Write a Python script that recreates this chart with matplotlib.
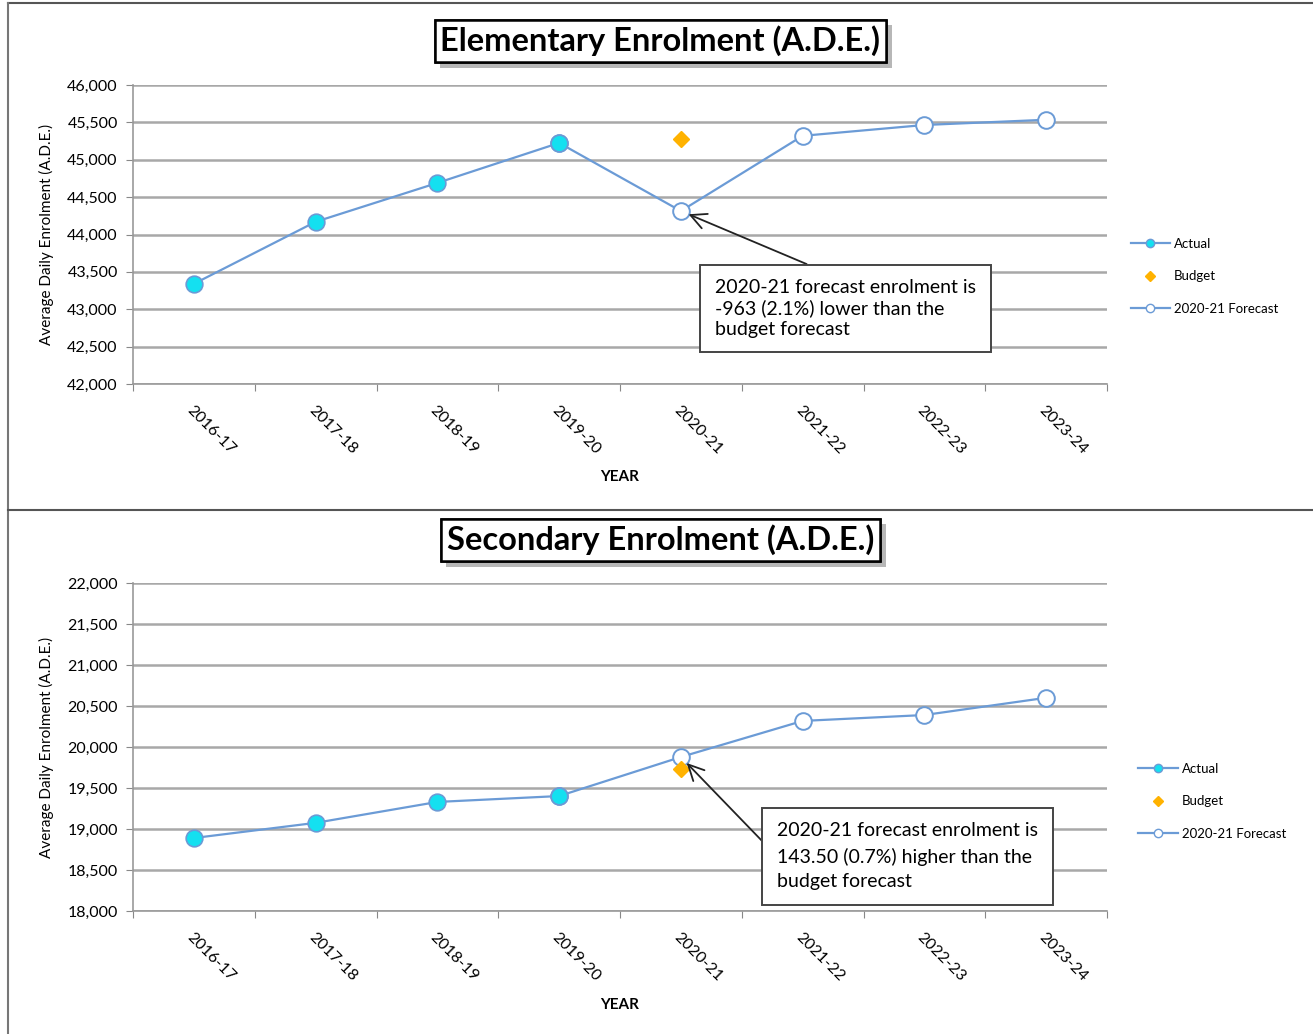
import matplotlib.pyplot as plt
import matplotlib.patheffects as pe
from matplotlib.ticker import FuncFormatter, FixedLocator
from matplotlib.lines import Line2D

plt.rcParams['font.family'] = ['Lato', 'DejaVu Sans']

years = ['2016-17', '2017-18', '2018-19', '2019-20', '2020-21',
         '2021-22', '2022-23', '2023-24']

# elementary A.D.E.
elem_actual = [43340, 44170, 44690, 45225]
elem_forecast = [45225, 44314, 45320, 45465, 45535]
elem_budget = 45277
elem_note = '2020-21 forecast enrolment is\n-963 (2.1%) lower than the\nbudget forecast'

# secondary A.D.E.
sec_actual = [18890, 19075, 19330, 19402]
sec_forecast = [19402, 19878, 20318, 20390, 20600]
sec_budget = 19734.5
sec_note = '2020-21 forecast enrolment is\n143.50 (0.7%) higher than the\nbudget forecast'

line_blue = '#6b9bd6'
cyan = '#14e0f0'
orange = '#ffb200'
grid_gray = '#a8a8a8'

fig = plt.figure(figsize=(13.13, 10.34), dpi=100)

# panel frames
fig.add_artist(Line2D([8/1313, 1], [1 - 3/1034, 1 - 3/1034], color='#555555', lw=1.5))
fig.add_artist(Line2D([8/1313, 8/1313], [1 - 3/1034, 0], color='#777777', lw=1.5))
fig.add_artist(Line2D([8/1313, 1], [1 - 510/1034, 1 - 510/1034], color='#555555', lw=1.5))


def draw_panel(ax, title, title_y, actual, forecast, budget, ylo, yhi,
               note, note_xy, relpos, linespacing, legend_anchor, xpad):
    xs = list(range(len(years)))
    n_act = len(actual)
    ax.plot(xs[n_act - 1:], forecast, color=line_blue, lw=1.6, marker='o',
            markersize=12, markerfacecolor='white', markeredgecolor=line_blue,
            markeredgewidth=1.4, zorder=3)
    ax.plot(xs[:n_act], actual, color=line_blue, lw=1.6, marker='o',
            markersize=12, markerfacecolor=cyan, markeredgecolor=line_blue,
            markeredgewidth=1.2, zorder=4)
    ax.plot([4], [budget], linestyle='none', marker='D', markersize=8.5,
            color=orange, zorder=4)

    ax.set_xlim(-0.5, len(years) - 0.5)
    ax.set_ylim(ylo, yhi)
    ax.yaxis.set_major_locator(FixedLocator(range(ylo, yhi + 1, 500)))
    ax.yaxis.set_major_formatter(FuncFormatter(lambda v, p: f'{int(v):,}'))
    ax.grid(axis='y', color=grid_gray, lw=1.8)
    ax.set_axisbelow(True)

    # tick marks on category boundaries, labels on category centres
    ax.set_xticks([i - 0.5 for i in range(len(years) + 1)])
    ax.set_xticklabels([])
    ax.set_xticks(xs, minor=True)
    ax.set_xticklabels(years, minor=True, rotation=-45, ha='left', va='top',
                       rotation_mode='anchor', fontsize=11.5)
    ax.tick_params(axis='x', which='minor', length=0, pad=14)
    ax.tick_params(axis='x', which='major', length=5, color='#888888')
    ax.tick_params(axis='y', length=5, color='#888888', labelsize=11.5, pad=6)

    for s in ['top', 'right']:
        ax.spines[s].set_visible(False)
    for s in ['left', 'bottom']:
        ax.spines[s].set_color('#999999')
        ax.spines[s].set_linewidth(1.2)

    ax.set_xlabel('YEAR', fontsize=11, fontweight='bold', labelpad=xpad)
    ax.set_ylabel('Average Daily Enrolment (A.D.E.)', fontsize=11)
    ax.yaxis.set_label_coords(-0.081, 0.5)

    t = fig.text(0.503, title_y, title, ha='center', va='center',
                 fontsize=23.5, fontweight='bold',
                 bbox=dict(boxstyle='square,pad=0.18', fc='white',
                           ec='black', lw=1.8))
    t.get_bbox_patch().set_path_effects(
        [pe.withSimplePatchShadow(offset=(4, -4), shadow_rgbFace='#888888',
                                  alpha=0.6), pe.Normal()])

    ax.annotate(note, xy=(4, forecast[1]), xytext=note_xy,
                textcoords='data', ha='left', va='top', fontsize=14,
                linespacing=linespacing,
                bbox=dict(boxstyle='square,pad=0.75', fc='white',
                          ec='#444444', lw=1.4),
                arrowprops=dict(arrowstyle='->,head_length=0.8,head_width=0.4',
                                color='#222222', lw=1.3, relpos=relpos,
                                shrinkA=0, shrinkB=6),
                zorder=5)

    handles = [
        Line2D([], [], color=line_blue, lw=1.6, marker='o', markersize=6,
               markerfacecolor=cyan, markeredgecolor=line_blue),
        Line2D([], [], linestyle='none', marker='D', markersize=5, color=orange),
        Line2D([], [], color=line_blue, lw=1.6, marker='o', markersize=6,
               markerfacecolor='white', markeredgecolor=line_blue),
    ]
    ax.legend(handles, ['Actual', 'Budget', '2020-21 Forecast'],
              loc='center left', bbox_to_anchor=legend_anchor, frameon=False,
              fontsize=9.5, handlelength=3.0, handletextpad=0.3,
              labelspacing=1.55)


ax1 = fig.add_axes([133/1313, 1 - 384/1034, 974/1313, 299/1034])
draw_panel(ax1, 'Elementary Enrolment (A.D.E.)', 1 - 41/1034,
           elem_actual, elem_forecast, elem_budget, 42000, 46000,
           elem_note, (4.28, 43400), (0.49, 1.0), 1.22, (1.012, 0.36), 9)

ax2 = fig.add_axes([133/1313, 1 - 911/1034, 974/1313, 328/1034])
draw_panel(ax2, 'Secondary Enrolment (A.D.E.)', 1 - 540/1034,
           sec_actual, sec_forecast, sec_budget, 18000, 22000,
           sec_note, (4.79, 19080), (0.0, 0.5), 1.55, (1.02, 0.335), 10)

fig.savefig('out.png', dpi=100)
